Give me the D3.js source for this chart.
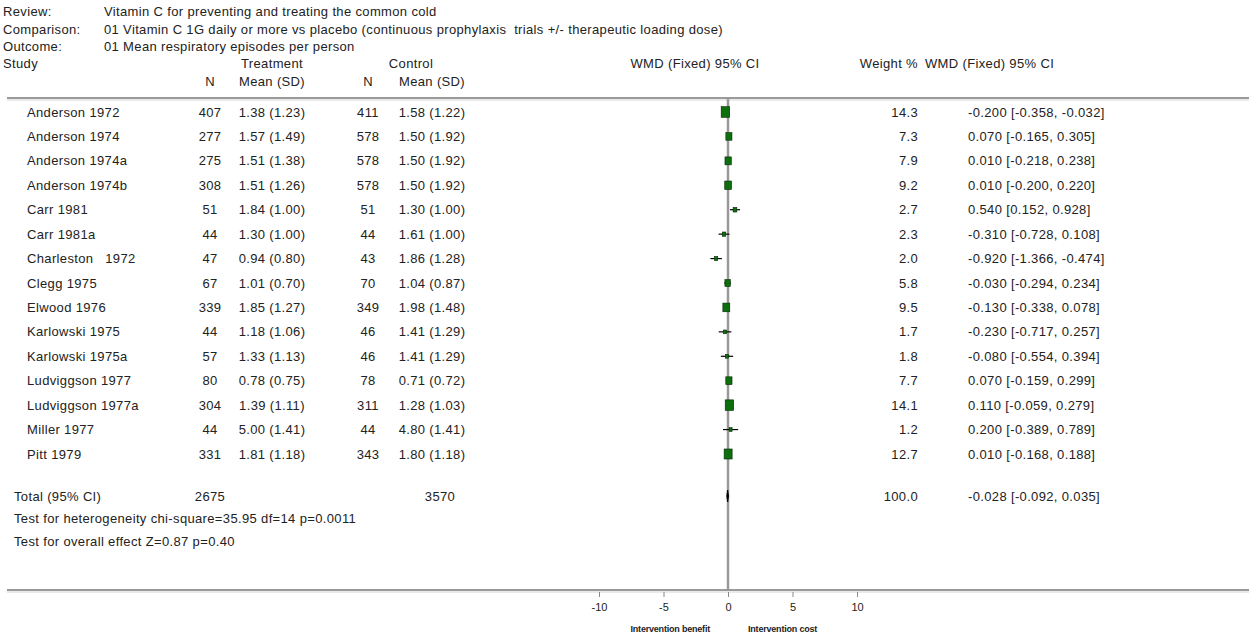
<!DOCTYPE html>
<html>
<head>
<meta charset="utf-8">
<script src="https://cdn.jsdelivr.net/npm/d3@7"></script>
<style>
  html, body { margin: 0; padding: 0; background: #fff; }
  svg { display: block; }
  text { font-family: "Liberation Sans", Arial, sans-serif; font-size: 13px; fill: #222; letter-spacing: 0.35px; white-space: pre; }
  .small { font-size: 11px; letter-spacing: 0; }
  .tiny { font-size: 9px; letter-spacing: -0.2px; font-weight: bold; }
</style>
</head>
<body>
<svg id="chart" width="1249" height="641"></svg>
<script>
// ---- data ----
const HEADER_LABELS = ['Review:', 'Comparison:', 'Outcome:'];
const HEADER_VALUES = [
  'Vitamin C for preventing and treating the common cold',
  '01 Vitamin C 1G daily or more vs placebo (continuous prophylaxis  trials +/- therapeutic loading dose)',
  '01 Mean respiratory episodes per person'
];

const studies = ['Anderson 1972', 'Anderson 1974', 'Anderson 1974a', 'Anderson 1974b', 'Carr 1981',
  'Carr 1981a', 'Charleston   1972', 'Clegg 1975', 'Elwood 1976', 'Karlowski 1975',
  'Karlowski 1975a', 'Ludviggson 1977', 'Ludviggson 1977a', 'Miller 1977', 'Pitt 1979'];
const treatN    = [407, 277, 275, 308, 51, 44, 47, 67, 339, 44, 57, 80, 304, 44, 331];
const treatMean = ['1.38', '1.57', '1.51', '1.51', '1.84', '1.30', '0.94', '1.01', '1.85', '1.18', '1.33', '0.78', '1.39', '5.00', '1.81'];
const treatSD   = ['1.23', '1.49', '1.38', '1.26', '1.00', '1.00', '0.80', '0.70', '1.27', '1.06', '1.13', '0.75', '1.11', '1.41', '1.18'];
const ctrlN     = [411, 578, 578, 578, 51, 44, 43, 70, 349, 46, 46, 78, 311, 44, 343];
const ctrlMean  = ['1.58', '1.50', '1.50', '1.50', '1.30', '1.61', '1.86', '1.04', '1.98', '1.41', '1.41', '0.71', '1.28', '4.80', '1.80'];
const ctrlSD    = ['1.22', '1.92', '1.92', '1.92', '1.00', '1.00', '1.28', '0.87', '1.48', '1.29', '1.29', '0.72', '1.03', '1.41', '1.18'];
const weights   = [14.3, 7.3, 7.9, 9.2, 2.7, 2.3, 2.0, 5.8, 9.5, 1.7, 1.8, 7.7, 14.1, 1.2, 12.7];
const wmd       = [-0.200, 0.070, 0.010, 0.010, 0.540, -0.310, -0.920, -0.030, -0.130, -0.230, -0.080, 0.070, 0.110, 0.200, 0.010];
const ciLow     = [-0.358, -0.165, -0.218, -0.200, 0.152, -0.728, -1.366, -0.294, -0.338, -0.717, -0.554, -0.159, -0.059, -0.389, -0.168];
const ciHigh    = [-0.032, 0.305, 0.238, 0.220, 0.928, 0.108, -0.474, 0.234, 0.078, 0.257, 0.394, 0.299, 0.279, 0.789, 0.188];

const total = { label: 'Total (95% CI)', treatN: 2675, ctrlN: 3570, weight: 100.0, wmd: -0.028, lo: -0.092, hi: 0.035 };
const footLines = [
  'Test for heterogeneity chi-square=35.95 df=14 p=0.0011',
  'Test for overall effect Z=0.87 p=0.40'
];
const axisTicks = [-10, -5, 0, 5, 10];
const axisLabels = ['Intervention benefit', 'Intervention cost'];

// ---- layout ----
const W = 1249, H = 641;
const svg = d3.select('#chart');

const col = { label: 3, value: 104, study: 27, tN: 210, tMean: 272, cN: 368, cMean: 432, weight: 918, ci: 968 };
const topRule = 98, bottomRule = 590;

const x = d3.scaleLinear().domain([-10, 10]).range([599, 857]);
const y = d3.scaleLinear().domain([0, studies.length - 1]).range([112, 454]);
const yTotal = 496;

// plain hyphen for negatives, like the original
const loc = d3.formatLocale({ decimal: '.', thousands: ',', grouping: [3], currency: ['', ''], minus: '-' });
const fmt3 = loc.format('.3f');
const ciText = (m, l, h) => `${fmt3(m)} [${fmt3(l)}, ${fmt3(h)}]`;

// header block
HEADER_LABELS.forEach((t, i) => {
  svg.append('text').attr('x', col.label).attr('y', 16 + i * 17.5).text(t);
  svg.append('text').attr('x', col.value).attr('y', 16 + i * 17.5).text(HEADER_VALUES[i]);
});

const hY = 68, sY = 86;
svg.append('text').attr('x', col.label).attr('y', hY).text('Study');
svg.append('text').attr('x', 272).attr('y', hY).attr('text-anchor', 'middle').text('Treatment');
svg.append('text').attr('x', 411).attr('y', hY).attr('text-anchor', 'middle').text('Control');
svg.append('text').attr('x', 695).attr('y', hY).attr('text-anchor', 'middle').text('WMD (Fixed) 95% CI');
svg.append('text').attr('x', col.weight).attr('y', hY).attr('text-anchor', 'end').text('Weight %');
svg.append('text').attr('x', col.ci - 43).attr('y', hY).text('WMD (Fixed) 95% CI');
[[col.tN, 'N'], [col.tMean, 'Mean (SD)'], [col.cN, 'N'], [col.cMean, 'Mean (SD)']].forEach(([cx, t]) => {
  svg.append('text').attr('x', cx).attr('y', sY).attr('text-anchor', 'middle').text(t);
});

// rules
function rule(yy) {
  svg.append('line').attr('x1', 7).attr('x2', W).attr('y1', yy).attr('y2', yy)
    .attr('stroke', '#9a9a9a').attr('stroke-width', 2);
  svg.append('line').attr('x1', 7).attr('x2', W).attr('y1', yy + 2).attr('y2', yy + 2)
    .attr('stroke', '#d4d4d4').attr('stroke-width', 1);
}
rule(topRule);
rule(bottomRule);

// zero line
svg.append('line').attr('x1', x(0)).attr('x2', x(0)).attr('y1', topRule).attr('y2', bottomRule)
  .attr('stroke', '#999').attr('stroke-width', 2.5);

// study rows
const rows = svg.append('g');
studies.forEach((s, i) => {
  const yy = y(i) + 4.5;
  rows.append('text').attr('x', col.study).attr('y', yy).text(s);
  rows.append('text').attr('x', col.tN).attr('y', yy).attr('text-anchor', 'middle').text(treatN[i]);
  rows.append('text').attr('x', col.tMean).attr('y', yy).attr('text-anchor', 'middle').text(`${treatMean[i]} (${treatSD[i]})`);
  rows.append('text').attr('x', col.cN).attr('y', yy).attr('text-anchor', 'middle').text(ctrlN[i]);
  rows.append('text').attr('x', col.cMean).attr('y', yy).attr('text-anchor', 'middle').text(`${ctrlMean[i]} (${ctrlSD[i]})`);
  rows.append('text').attr('x', col.weight).attr('y', yy).attr('text-anchor', 'end').text(weights[i].toFixed(1));
  rows.append('text').attr('x', col.ci).attr('y', yy).text(ciText(wmd[i], ciLow[i], ciHigh[i]));
});

// forest marks
const size = d3.scaleSqrt().domain([0, 14.3]).range([0, 8.5]);
const marks = svg.append('g');
studies.forEach((s, i) => {
  const cy = y(i);
  marks.append('line').attr('x1', x(ciLow[i])).attr('x2', x(ciHigh[i])).attr('y1', cy).attr('y2', cy)
    .attr('stroke', '#000').attr('stroke-width', 1.2);
  const w = Math.max(3, size(weights[i]));
  const h = w * 1.25;
  marks.append('rect').attr('x', x(wmd[i]) - w / 2).attr('y', cy - h / 2).attr('width', w).attr('height', h)
    .attr('fill', '#0c6e0c').attr('stroke', '#042a04').attr('stroke-width', 0.6);
});

// total
svg.append('text').attr('x', col.label + 11).attr('y', yTotal + 4.5).text(total.label);
svg.append('text').attr('x', col.tN).attr('y', yTotal + 4.5).attr('text-anchor', 'middle').text(total.treatN);
svg.append('text').attr('x', col.cN + 72).attr('y', yTotal + 4.5).attr('text-anchor', 'middle').text(total.ctrlN);
svg.append('text').attr('x', col.weight).attr('y', yTotal + 4.5).attr('text-anchor', 'end').text(total.weight.toFixed(1));
svg.append('text').attr('x', col.ci).attr('y', yTotal + 4.5).text(ciText(total.wmd, total.lo, total.hi));
const dh = 6;
svg.append('path')
  .attr('d', `M${x(total.lo)},${yTotal} L${x(total.wmd)},${yTotal - dh} L${x(total.hi)},${yTotal} L${x(total.wmd)},${yTotal + dh}Z`)
  .attr('fill', '#000').attr('stroke', '#000').attr('stroke-width', 1);

footLines.forEach((t, i) => {
  svg.append('text').attr('x', col.label + 11).attr('y', 522.5 + i * 23).text(t);
});

// axis
const axis = d3.axisBottom(x).tickValues(axisTicks).tickSize(5).tickFormat(loc.format('d'));
const ag = svg.append('g').attr('transform', `translate(0,${bottomRule + 2})`).call(axis);
ag.select('.domain').remove();
ag.selectAll('line').attr('stroke', '#888');
ag.selectAll('text').attr('class', 'small').attr('font-family', null).attr('font-size', null).attr('fill', '#222').attr('dy', '1em');

svg.append('text').attr('class', 'tiny').attr('x', x(0) - 18).attr('y', 632).attr('text-anchor', 'end').text(axisLabels[0]);
svg.append('text').attr('class', 'tiny').attr('x', x(0) + 20).attr('y', 632).text(axisLabels[1]);
</script>
</body>
</html>
